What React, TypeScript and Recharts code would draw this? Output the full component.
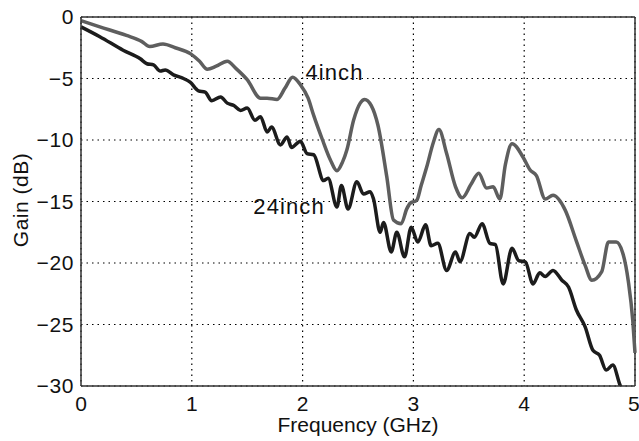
import {
  LineChart,
  Line,
  XAxis,
  YAxis,
  CartesianGrid,
  ReferenceLine,
  ReferenceDot,
} from "recharts";

// 4inch trace (gray)
const freq4 = [
  0, 0.17, 0.41, 0.55, 0.62, 0.74, 0.85, 0.99, 1.07, 1.14, 1.22, 1.32, 1.4,
  1.5, 1.62, 1.68, 1.77, 1.84, 1.91, 1.98, 2.05, 2.1, 2.18, 2.25, 2.31, 2.36,
  2.4, 2.46, 2.52, 2.56, 2.62, 2.68, 2.76, 2.82, 2.89, 2.94, 2.97, 3.03, 3.07,
  3.12, 3.18, 3.23, 3.3, 3.38, 3.44, 3.52, 3.59, 3.66, 3.72, 3.78, 3.83, 3.89,
  3.99, 4.05, 4.11, 4.19, 4.26, 4.37, 4.47, 4.55, 4.61, 4.7, 4.76, 4.83, 4.89,
  4.94, 4.98, 5.0,
];
const gain4 = [
  -0.3, -0.8, -1.5, -2.0, -2.4, -2.2, -2.5, -3.0, -3.6, -4.25, -4.0, -3.6,
  -4.2, -5.1, -6.6, -6.6, -6.7, -5.8, -4.9, -5.5, -6.6, -8.0, -10.0, -11.6,
  -12.5, -11.8, -10.8, -8.4, -7.0, -6.7, -7.2, -8.8, -13.0, -16.5, -16.8,
  -15.6, -15.15, -14.9, -13.7, -12.2, -10.2, -9.15, -11.1, -13.8, -14.7, -13.6,
  -12.7, -13.9, -13.8, -14.8, -12.0, -10.3, -11.4, -12.4, -12.9, -14.8, -14.5,
  -15.7, -18.2, -20.2, -21.4, -20.7, -18.3, -18.3, -19.2, -21.5, -24.7, -27.3,
];

// 24inch trace (black)
const freq24 = [
  0, 0.17, 0.38, 0.535, 0.595, 0.655, 0.715, 0.76, 0.835, 0.925, 0.985, 1.06,
  1.12, 1.18, 1.26, 1.32, 1.38, 1.44, 1.5, 1.57, 1.62, 1.68, 1.72, 1.8, 1.86,
  1.9, 1.98, 2.04, 2.1, 2.19, 2.23, 2.31, 2.35, 2.41, 2.49, 2.55, 2.61, 2.64,
  2.7, 2.73, 2.8, 2.85, 2.92, 2.98, 3.04, 3.11, 3.16, 3.22, 3.3, 3.38, 3.42,
  3.51, 3.55, 3.62, 3.69, 3.74, 3.81, 3.89, 3.95, 4.01, 4.08, 4.14, 4.19, 4.26,
  4.34, 4.4, 4.47, 4.55, 4.62, 4.68, 4.74, 4.8, 4.86, 4.91,
];
const gain24 = [
  -0.8, -1.6, -2.7, -3.4, -3.8, -3.9, -4.4, -4.3, -4.7, -5.0, -5.3, -6.0, -6.1,
  -6.8, -6.5, -7.0, -7.2, -7.6, -7.4, -8.4, -8.1, -9.35, -8.95, -10.4, -9.75,
  -10.6, -10.1, -11.1, -11.2, -13.3, -13.1, -15.45, -13.7, -15.6, -13.4, -14.4,
  -14.2, -14.8, -17.5, -16.7, -19.1, -17.5, -19.5, -17.1, -18.3, -16.9, -18.6,
  -18.4, -20.6, -19.1, -19.9, -17.6, -17.9, -16.8, -18.4, -18.5, -21.7, -18.8,
  -19.8, -19.9, -21.7, -20.8, -21.1, -20.6, -21.4, -21.95, -23.8, -25.2, -27.1,
  -27.5, -28.7, -28.3, -29.8, -31.0,
];

const xTicks = [0, 1, 2, 3, 4, 5];
const yTicks = [0, -5, -10, -15, -20, -25, -30];

const data4 = freq4.map((f, i) => ({ f, g: gain4[i] }));
const data24 = freq24.map((f, i) => ({ f, g: gain24[i] }));

const FONT = "'Liberation Sans', Arial, Helvetica, sans-serif";
const minus = (v: number) => (v < 0 ? `\u2212${Math.abs(v)}` : String(v));

export default function App() {
  return (
    <div style={{ position: "absolute", left: 0, top: 0, background: "#fff" }}>
      <LineChart
        width={639}
        height={441}
        margin={{ top: 17, right: 4, left: 0, bottom: 0 }}
        style={{ fontFamily: FONT }}
      >
        <CartesianGrid
          stroke="#000"
          strokeDasharray="1.5 4"
          strokeWidth={1.2}
        />
        <XAxis
          type="number"
          dataKey="f"
          domain={[0, 5]}
          ticks={xTicks}
          height={55}
          tickLine={false}
          tickMargin={4}
          axisLine={{ stroke: "#333", strokeWidth: 1.5 }}
          tick={{ fill: "#111", fontSize: 21 }}
          label={{
            value: "Frequency (GHz)",
            position: "insideBottom",
            offset: 9,
            fill: "#111",
            fontSize: 21,
          }}
        />
        <YAxis
          type="number"
          domain={[-30, 0]}
          ticks={yTicks}
          width={81}
          allowDataOverflow
          tickLine={false}
          tickMargin={1}
          tickFormatter={minus}
          axisLine={{ stroke: "#333", strokeWidth: 1.5 }}
          tick={{ fill: "#111", fontSize: 21, letterSpacing: 0.6 }}
          label={{
            content: () => (
              <text
                x={28}
                y={200}
                transform="rotate(-90 28 200)"
                textAnchor="middle"
                fill="#111"
                fontSize={21}
                letterSpacing={0.5}
              >
                Gain (dB)
              </text>
            ),
          }}
        />
        <ReferenceLine y={0} stroke="#333" strokeWidth={1.5} />
        <ReferenceLine x={5} stroke="#333" strokeWidth={1.5} />
        <Line
          data={data4}
          dataKey="g"
          type="monotone"
          stroke="#5e5e5e"
          strokeWidth={3.5}
          dot={false}
          isAnimationActive={false}
        />
        <Line
          data={data24}
          dataKey="g"
          type="monotone"
          stroke="#1c1c1c"
          strokeWidth={3.5}
          dot={false}
          isAnimationActive={false}
        />
        <ReferenceDot
          x={1.98}
          y={-4.47}
          r={0}
          fill="none"
          stroke="none"
          label={{
            value: "4inch",
            position: "right",
            fill: "#111",
            fontSize: 22,
            letterSpacing: 1.1,
          }}
        />
        <ReferenceDot
          x={1.51}
          y={-15.4}
          r={0}
          fill="none"
          stroke="none"
          label={{
            value: "24inch",
            position: "right",
            fill: "#111",
            fontSize: 22,
            letterSpacing: 1.1,
          }}
        />
      </LineChart>
    </div>
  );
}
